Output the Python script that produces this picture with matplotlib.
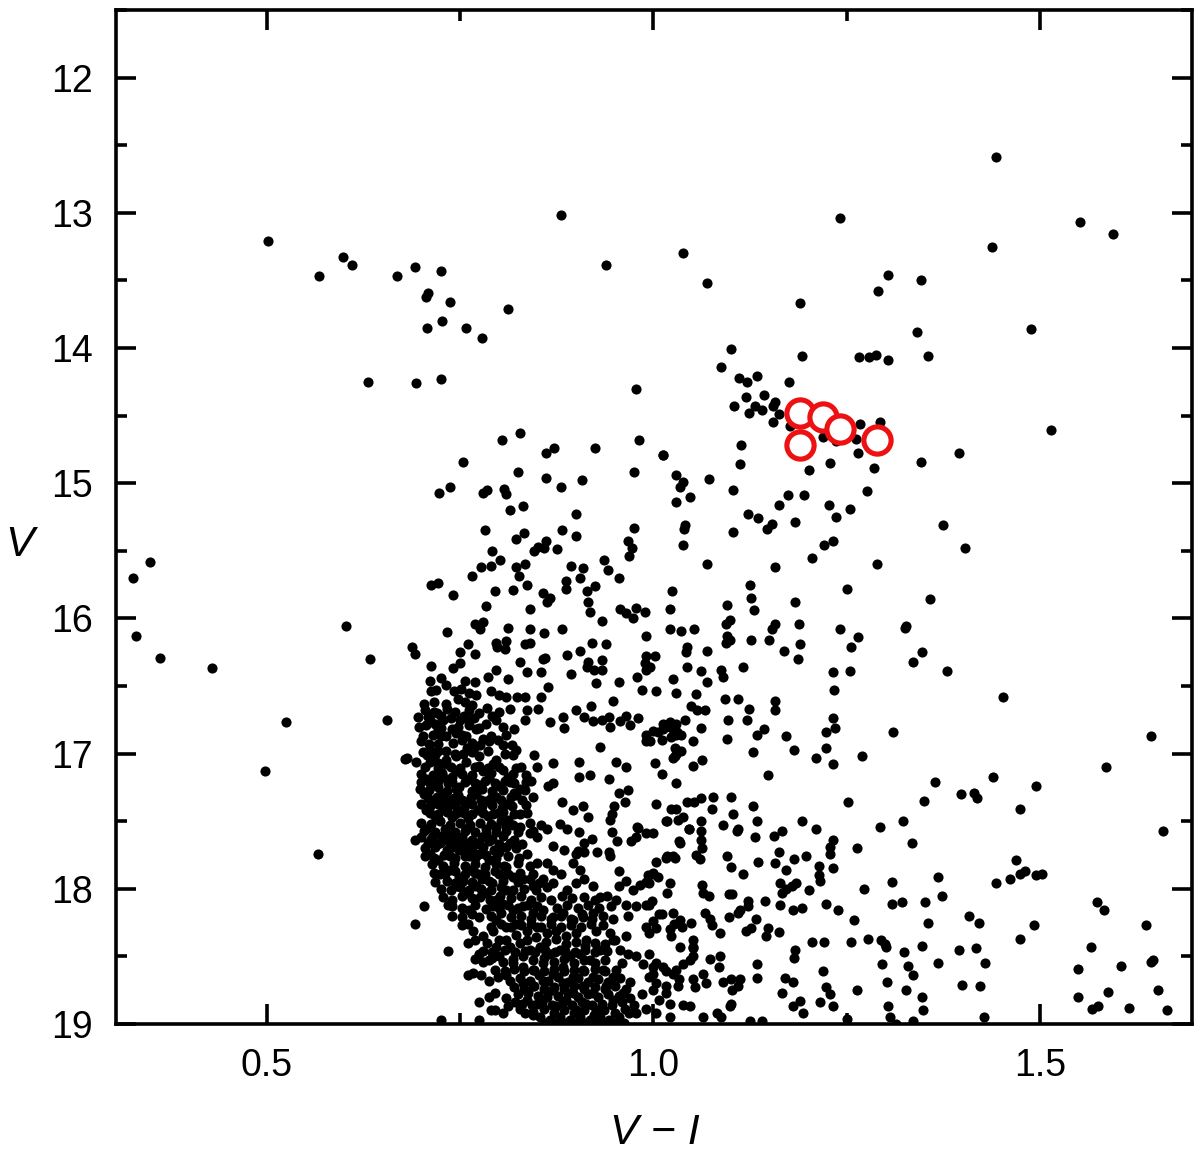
import numpy as np
import matplotlib
matplotlib.use('Agg')
import matplotlib.pyplot as plt
from matplotlib.ticker import MultipleLocator

plt.rcParams['font.family'] = ['Liberation Sans', 'DejaVu Sans']

# -------------------------
# Data: (V-I, V) pairs
# -------------------------
bright_stars = [
    (1.443, 12.59), (1.242, 13.04), (1.552, 13.07), (1.595, 13.16), (1.438, 13.25), (1.039, 13.30),
    (1.070, 13.52), (1.303, 13.46), (1.346, 13.50), (1.291, 13.58), (1.190, 13.67), (1.341, 13.88),
    (1.489, 13.86), (1.100, 14.01), (0.502, 13.21), (0.567, 13.47), (0.598, 13.33), (0.610, 13.39),
    (0.669, 13.47), (0.692, 13.40), (0.726, 13.43), (0.708, 13.59), (0.706, 13.62), (0.737, 13.66),
    (0.812, 13.71), (0.707, 13.85), (0.727, 13.80), (0.758, 13.85), (0.779, 13.93), (0.631, 14.25),
    (0.693, 14.26), (0.726, 14.23), (0.978, 14.30), (0.880, 13.02), (0.939, 13.39), (1.087, 14.14),
    (1.192, 14.06), (1.266, 14.07), (1.279, 14.07), (1.288, 14.05), (1.303, 14.09), (1.111, 14.22),
    (1.121, 14.25), (1.134, 14.21), (1.175, 14.25), (1.355, 14.06),
]

giant_stars = [
    (1.120, 14.36), (1.143, 14.35), (1.158, 14.40), (1.105, 14.43), (1.124, 14.48), (1.131, 14.43),
    (1.140, 14.46), (1.155, 14.43), (1.162, 14.49), (1.155, 14.55), (1.177, 14.58), (1.219, 14.66),
    (1.237, 14.69), (1.268, 14.56), (1.293, 14.55), (1.262, 14.67), (1.265, 14.78), (1.113, 14.72),
    (1.112, 14.86), (1.201, 14.90), (1.228, 14.85), (1.285, 14.89), (1.012, 14.79), (1.029, 14.94),
    (1.039, 14.99), (1.035, 15.03), (1.047, 15.10), (1.029, 15.14), (1.072, 14.97), (1.103, 15.05),
    (1.276, 15.06), (1.174, 15.09), (1.195, 15.09), (1.162, 15.16), (1.227, 15.16), (1.255, 15.19),
    (1.122, 15.23), (1.136, 15.26), (1.153, 15.30), (1.147, 15.34), (1.183, 15.29), (1.237, 15.25),
    (1.103, 15.36), (1.232, 15.43), (1.221, 15.46), (1.038, 15.46),
    (1.514, 14.61), (1.395, 14.78), (1.346, 14.84), (1.375, 15.31), (1.403, 15.48), (1.358, 15.86),
    (1.327, 16.06), (1.347, 16.25), (1.336, 16.32), (1.380, 16.39),
    (1.125, 15.75), (1.127, 15.85), (1.130, 15.94), (1.070, 15.60), (1.157, 15.62), (1.183, 15.88),
    (1.250, 15.78), (1.290, 15.60), (1.205, 15.55), (1.095, 15.90),
]

blue_stars = [
    (0.327, 15.70), (0.349, 15.58), (0.331, 16.13), (0.362, 16.29), (0.429, 16.37), (0.525, 16.77),
    (0.498, 17.13), (0.566, 17.74), (0.603, 16.06), (0.634, 16.30), (0.656, 16.75), (0.679, 17.04),
]

field_mid = [
    (0.827, 14.63), (0.804, 14.68), (0.872, 14.74), (0.861, 14.78), (0.924, 14.74), (0.982, 14.68),
    (1.013, 14.79), (0.754, 14.84), (0.825, 14.92), (0.861, 14.96), (0.975, 14.92), (0.908, 14.98),
    (0.880, 15.03), (0.737, 15.03), (0.723, 15.07), (0.780, 15.07), (0.785, 15.05), (0.807, 15.04),
    (0.810, 15.08), (0.831, 15.17), (0.814, 15.20), (0.900, 15.23), (0.782, 15.35), (0.882, 15.35),
    (0.900, 15.39), (0.833, 15.37), (0.822, 15.41), (0.861, 15.43), (0.851, 15.47), (0.859, 15.48),
    (0.846, 15.50), (0.875, 15.49), (0.792, 15.50), (0.802, 15.57), (0.777, 15.62), (0.790, 15.61),
    (0.823, 15.62), (0.834, 15.60), (0.826, 15.69), (0.766, 15.69), (0.712, 15.75), (0.721, 15.74),
    (0.741, 15.83), (0.795, 15.80), (0.818, 15.79), (0.836, 15.75), (0.857, 15.81), (0.866, 15.85),
    (0.863, 15.88), (0.887, 15.72), (0.887, 15.78), (0.893, 15.61), (0.909, 15.63), (0.905, 15.70),
    (0.914, 15.80), (0.924, 15.76), (0.916, 15.88), (0.918, 15.95), (0.936, 15.57), (0.942, 15.64),
    (0.955, 15.70), (0.967, 15.43), (0.973, 15.48), (0.968, 15.54), (0.975, 15.33), (0.783, 15.91),
    (0.841, 15.93), (0.957, 15.93), (0.965, 15.96), (0.974, 16.00), (0.977, 15.92), (0.989, 15.95),
    (0.934, 16.02), (1.024, 15.80), (1.021, 15.93), (1.041, 15.31), (1.040, 15.34), (0.733, 16.10),
    (0.769, 16.04), (0.780, 16.03), (0.776, 16.08), (0.812, 16.07), (0.841, 16.08), (0.859, 16.11),
    (0.882, 16.08), (0.990, 16.13), (1.021, 16.08), (1.036, 16.09), (1.053, 16.08),
]

field_red = [
    (1.452, 16.58), (1.644, 16.87), (1.364, 17.21), (1.350, 17.35), (1.398, 17.30), (1.415, 17.29),
    (1.419, 17.33), (1.439, 17.17), (1.474, 17.41), (1.495, 17.24), (1.585, 17.10), (1.659, 17.57),
    (1.368, 17.91), (1.351, 18.10), (1.373, 18.05), (1.356, 18.25), (1.347, 18.42), (1.368, 18.55),
    (1.443, 17.96), (1.461, 17.93), (1.469, 17.79), (1.474, 17.89), (1.481, 17.87), (1.495, 17.90),
    (1.503, 17.89), (1.409, 18.20), (1.421, 18.25), (1.475, 18.37), (1.492, 18.27), (1.395, 18.45),
    (1.418, 18.44), (1.429, 18.55), (1.400, 18.71), (1.422, 18.72), (1.347, 18.80), (1.349, 18.90),
    (1.428, 18.95), (1.574, 18.10), (1.583, 18.16), (1.638, 18.27), (1.566, 18.43), (1.549, 18.59),
    (1.605, 18.57), (1.644, 18.54), (1.646, 18.53), (1.549, 18.80), (1.588, 18.76), (1.567, 18.89),
    (1.575, 18.87), (1.616, 18.88), (1.653, 18.75), (1.664, 18.90),
]

field_lower = [
    (1.099, 16.01), (1.094, 16.04), (1.095, 16.13), (1.094, 16.18), (1.099, 16.16), (1.126, 16.16),
    (1.150, 16.16), (1.158, 16.04), (1.154, 16.08), (1.188, 16.04), (1.190, 16.19), (1.187, 16.30),
    (1.169, 16.24), (1.242, 16.08), (1.256, 16.21), (1.265, 16.14), (1.233, 16.40), (1.255, 16.39),
    (1.234, 16.53), (1.326, 16.07), (1.070, 16.24), (1.042, 16.25), (1.044, 16.21), (1.002, 16.28),
    (1.044, 16.36), (1.062, 16.39), (1.070, 16.47), (1.087, 16.38), (1.090, 16.43), (1.116, 16.36),
    (1.055, 16.56), (1.093, 16.60), (1.110, 16.60), (1.124, 16.67), (1.121, 16.75), (1.158, 16.61),
    (1.157, 16.68), (1.049, 16.65), (1.056, 16.68), (1.067, 16.68), (1.041, 16.75), (1.062, 16.81),
    (1.097, 16.75), (1.233, 16.74), (1.235, 16.81), (1.223, 16.84), (1.013, 16.78), (1.022, 16.77),
    (1.029, 16.78), (1.006, 16.84), (1.011, 16.90), (1.030, 16.86), (1.036, 16.86), (1.023, 16.88),
    (1.028, 16.96), (1.036, 16.98), (1.051, 16.91), (1.051, 17.09), (1.063, 17.05), (1.095, 16.89),
    (1.134, 16.86), (1.143, 16.82), (1.172, 16.87), (1.182, 16.97), (1.129, 16.99), (1.211, 17.03),
    (1.223, 16.96), (1.232, 17.08), (1.149, 17.16), (1.270, 17.02), (1.310, 16.84), (1.252, 17.36),
    (1.323, 17.50), (1.293, 17.54), (1.335, 17.66), (1.264, 17.70), (1.232, 17.64), (1.229, 17.69),
    (1.229, 17.74), (1.211, 17.56), (1.192, 17.50), (1.156, 17.61), (1.167, 17.57), (1.162, 17.73),
    (1.157, 17.81), (1.182, 17.78), (1.172, 17.86), (1.198, 17.76), (1.214, 17.83), (1.215, 17.90),
    (1.216, 17.94), (1.202, 18.01), (1.232, 17.85), (1.136, 17.80), (1.116, 17.89), (1.095, 17.76),
    (1.101, 17.84), (1.103, 17.45), (1.108, 17.57), (1.110, 17.56), (1.101, 17.32), (1.090, 17.53),
    (1.129, 17.39), (1.134, 17.50), (1.131, 17.62), (1.077, 17.32), (1.076, 17.41), (1.062, 17.33),
    (1.043, 17.36), (1.053, 17.36), (1.023, 17.41), (1.030, 17.41), (1.038, 17.47), (1.018, 17.50),
    (1.046, 17.56), (1.062, 17.50), (1.062, 17.57), (1.062, 17.64), (1.063, 17.70), (1.061, 17.78),
    (1.033, 17.65), (1.004, 17.80), (0.999, 17.88), (0.995, 17.96), (1.017, 17.77), (1.028, 17.77),
    (1.021, 17.96), (1.018, 18.03), (1.063, 17.97), (1.064, 18.03), (1.072, 18.05), (1.011, 18.19),
    (1.007, 18.19), (1.025, 18.18), (1.027, 18.26), (1.037, 18.28), (1.034, 18.23), (1.049, 18.25),
    (1.067, 18.18), (1.073, 18.22), (1.076, 18.27), (1.086, 18.33), (1.098, 18.04), (1.102, 18.04),
    (1.098, 18.21), (1.110, 18.18), (1.112, 18.16), (1.122, 18.09), (1.123, 18.13), (1.120, 18.31),
    (1.127, 18.29), (1.133, 18.22), (1.144, 18.09), (1.149, 18.29), (1.146, 18.35), (1.162, 18.32),
    (1.164, 17.96), (1.167, 18.03), (1.164, 18.12), (1.172, 18.00), (1.179, 17.98), (1.184, 17.96),
    (1.181, 18.16), (1.192, 18.14), (1.223, 18.11), (1.239, 18.16), (1.260, 18.23), (1.183, 18.45),
    (1.182, 18.51), (1.205, 18.39), (1.221, 18.39), (1.256, 18.39), (1.278, 18.37), (1.294, 18.38),
    (1.300, 18.41), (1.301, 18.43), (1.324, 18.47), (1.296, 18.56), (1.302, 18.69), (1.330, 18.57),
    (1.336, 18.64), (1.327, 18.75), (1.304, 18.87), (1.306, 18.95), (1.220, 18.61), (1.223, 18.73),
    (1.229, 18.78), (1.264, 18.75), (1.233, 18.87), (1.216, 18.84), (1.250, 18.96), (1.194, 18.92),
    (1.190, 18.83), (1.181, 18.87), (1.166, 18.77), (1.171, 18.66), (1.181, 18.69), (1.134, 18.56),
    (1.134, 18.66), (1.101, 18.67), (1.112, 18.67), (1.110, 18.72), (1.090, 18.69), (1.102, 18.75),
    (1.099, 18.87), (1.100, 18.85), (1.085, 18.58), (1.086, 18.50), (1.073, 18.52), (1.068, 18.70),
    (1.064, 18.63), (1.051, 18.50), (1.051, 18.38), (1.051, 18.44), (1.039, 18.56), (1.030, 18.60),
    (1.017, 18.61), (1.033, 18.67), (1.032, 18.72), (1.054, 18.73), (1.039, 18.86), (1.047, 18.87),
    (1.064, 18.95), (1.082, 18.92), (1.088, 18.95), (1.125, 18.98), (1.140, 18.98), (1.017, 18.77),
    (1.008, 18.82), (1.021, 18.85), (1.004, 18.92), (1.021, 18.95), (0.995, 18.48), (0.999, 18.58),
    (0.995, 18.65), (1.004, 18.70), (0.999, 18.75), (0.995, 18.33), (0.999, 18.24), (0.995, 18.12),
    (1.314, 19.00), (1.336, 18.98), (1.309, 17.95), (1.309, 18.11), (1.322, 18.10), (1.272, 18.00),
]

turnoff_upper = [
    (0.688, 16.21), (0.692, 16.26), (0.760, 16.19), (0.750, 16.25), (0.770, 16.26), (0.797, 16.18),
    (0.798, 16.21), (0.810, 16.17), (0.808, 16.23), (0.834, 16.19), (0.841, 16.18), (0.860, 16.29),
    (0.857, 16.30), (0.827, 16.32), (0.889, 16.27), (0.905, 16.24), (0.921, 16.18), (0.939, 16.19),
    (0.916, 16.32), (0.914, 16.36), (0.923, 16.38), (0.934, 16.31), (0.934, 16.38), (0.990, 16.28),
    (0.989, 16.33), (0.996, 16.36), (0.991, 16.38), (0.713, 16.35), (0.750, 16.33), (0.741, 16.37),
    (0.797, 16.38), (0.812, 16.45), (0.836, 16.40), (0.855, 16.40), (0.711, 16.46), (0.725, 16.44),
    (0.732, 16.49), (0.757, 16.46), (0.770, 16.47), (0.786, 16.43), (0.894, 16.41), (0.926, 16.48),
    (0.955, 16.47), (0.979, 16.43), (0.985, 16.53), (1.004, 16.54), (1.025, 16.45), (1.029, 16.55),
    (0.713, 16.54), (0.719, 16.53), (0.742, 16.54), (0.751, 16.52), (0.761, 16.55), (0.771, 16.57),
    (0.790, 16.54), (0.801, 16.57), (0.809, 16.58), (0.824, 16.58), (0.834, 16.58), (0.855, 16.58),
    (0.864, 16.51), (0.703, 16.63), (0.716, 16.62), (0.732, 16.63), (0.748, 16.60), (0.756, 16.62),
    (0.766, 16.64), (0.774, 16.70), (0.696, 16.73), (0.697, 16.80), (0.720, 16.70), (0.728, 16.75),
    (0.739, 16.82), (0.750, 16.75), (0.758, 16.74), (0.836, 16.68), (0.851, 16.67), (0.834, 16.75),
    (0.867, 16.77), (0.883, 16.73), (0.884, 16.81), (0.900, 16.68), (0.910, 16.73), (0.920, 16.65),
    (0.922, 16.76), (0.934, 16.75), (0.943, 16.73), (0.944, 16.80), (0.948, 16.61), (0.957, 16.76),
    (0.965, 16.72), (0.970, 16.79), (0.980, 16.74), (0.991, 16.86), (1.000, 16.83), (1.012, 16.82),
    (1.021, 16.80), (1.026, 16.86), (1.031, 16.84), (0.990, 16.91), (0.996, 16.91), (1.026, 17.03),
    (1.030, 17.00), (0.710, 16.93), (0.721, 16.93), (0.707, 17.01), (0.717, 17.01), (0.682, 17.03),
    (0.693, 17.06), (0.721, 17.07), (0.732, 17.05), (0.745, 17.02), (0.759, 16.96), (0.768, 16.96),
    (0.776, 16.94), (0.788, 16.91), (0.799, 16.90), (0.810, 16.86), (0.817, 16.94), (0.823, 16.97),
    (0.846, 17.01), (0.849, 17.10), (0.870, 17.07), (0.904, 17.06), (0.904, 17.17), (0.918, 17.16),
    (0.931, 16.95), (0.943, 17.19), (0.952, 17.06), (0.965, 17.10), (1.002, 17.07), (1.011, 17.15),
    (1.028, 17.02), (0.711, 16.75), (0.721, 16.82), (0.732, 16.87), (0.745, 16.85), (0.758, 16.87),
    (0.771, 16.82), (0.784, 16.78), (0.797, 16.75), (0.702, 16.87), (0.711, 16.97), (0.732, 16.98),
    (0.754, 17.00), (0.775, 17.02), (0.797, 17.05), (0.818, 17.01),
    (0.705, 16.68), (0.716, 16.69), (0.733, 16.67), (0.744, 16.69), (0.762, 16.68), (0.785, 16.66),
    (0.800, 16.69), (0.815, 16.67), (0.706, 16.79), (0.717, 16.78), (0.726, 16.81), (0.748, 16.80),
    (0.762, 16.79), (0.775, 16.81), (0.805, 16.80), (0.820, 16.82), (0.700, 16.91), (0.741, 16.92),
    (0.752, 16.90), (0.765, 16.92), (0.780, 16.89), (0.805, 16.94),
    (0.708, 16.73), (0.725, 16.72), (0.738, 16.74), (0.755, 16.72), (0.768, 16.74), (0.792, 16.72),
    (0.715, 16.86), (0.726, 16.87), (0.752, 16.86), (0.790, 16.87),
    (0.702, 16.99), (0.722, 16.98), (0.743, 17.00), (0.765, 16.99), (0.786, 16.98), (0.808, 17.00),
]

turnoff_core = [
    (0.711, 17.06), (0.721, 17.11), (0.732, 17.08), (0.745, 17.13), (0.758, 17.06), (0.769, 17.10),
    (0.780, 17.13), (0.793, 17.08), (0.806, 17.12), (0.818, 17.15), (0.829, 17.10),
    (0.706, 17.19), (0.717, 17.23), (0.728, 17.17), (0.739, 17.21), (0.749, 17.25), (0.762, 17.19),
    (0.775, 17.23), (0.788, 17.18), (0.801, 17.24), (0.814, 17.21), (0.827, 17.26), (0.842, 17.20),
    (0.704, 17.30), (0.715, 17.35), (0.726, 17.29), (0.737, 17.34), (0.747, 17.31), (0.758, 17.36),
    (0.771, 17.30), (0.784, 17.35), (0.797, 17.32), (0.810, 17.37), (0.823, 17.31),
    (0.706, 17.42), (0.717, 17.46), (0.728, 17.41), (0.739, 17.47), (0.749, 17.43), (0.760, 17.48),
    (0.773, 17.42), (0.786, 17.46), (0.799, 17.44), (0.812, 17.49), (0.827, 17.45),
    (0.844, 17.32), (0.864, 17.24), (0.870, 17.22), (0.882, 17.36), (0.896, 17.42), (0.909, 17.39),
    (0.916, 17.47), (0.944, 17.49), (0.946, 17.45), (0.949, 17.39), (0.956, 17.29), (0.964, 17.36),
    (0.967, 17.27), (0.980, 17.55), (1.004, 17.37), (1.032, 17.49), (1.030, 17.22),
    (0.692, 17.64), (0.706, 17.56), (0.715, 17.61), (0.724, 17.66), (0.732, 17.59), (0.745, 17.64),
    (0.758, 17.56), (0.771, 17.66), (0.784, 17.59), (0.797, 17.54), (0.711, 17.74), (0.721, 17.79),
    (0.737, 17.76), (0.749, 17.71), (0.762, 17.76), (0.775, 17.74), (0.788, 17.79), (0.801, 17.73),
    (0.724, 17.89), (0.737, 17.86), (0.749, 17.91), (0.762, 17.86), (0.775, 17.89), (0.788, 17.94),
    (0.801, 17.89), (0.810, 17.84), (0.745, 17.98), (0.758, 18.03), (0.771, 17.98), (0.784, 18.03),
    (0.797, 18.08), (0.810, 18.01), (0.762, 18.16), (0.775, 18.21), (0.784, 18.15), (0.767, 18.31),
    (0.780, 18.35), (0.793, 18.31), (0.775, 18.48), (0.788, 18.53), (0.801, 18.50), (0.797, 18.43),
    (0.704, 18.13), (0.734, 18.12), (0.692, 18.26), (0.734, 18.46), (0.760, 18.64), (0.767, 18.62),
    (0.777, 18.64), (0.788, 18.68), (0.799, 18.65), (0.810, 18.64), (0.775, 18.84), (0.788, 18.80),
    (0.795, 18.77), (0.810, 18.81), (0.821, 18.84), (0.795, 18.90), (0.812, 18.87), (0.726, 18.97),
    (0.775, 18.97), (0.834, 18.92), (0.844, 18.93),
    (0.700, 17.15), (0.715, 17.16), (0.727, 17.14), (0.740, 17.17), (0.752, 17.15), (0.765, 17.16),
    (0.790, 17.14), (0.812, 17.17), (0.835, 17.16),
    (0.698, 17.26), (0.710, 17.27), (0.722, 17.25), (0.733, 17.28), (0.745, 17.26), (0.765, 17.28),
    (0.779, 17.26), (0.792, 17.28), (0.806, 17.27), (0.820, 17.29), (0.834, 17.27),
    (0.700, 17.37), (0.711, 17.39), (0.722, 17.37), (0.733, 17.40), (0.744, 17.38), (0.755, 17.40),
    (0.766, 17.37), (0.779, 17.39), (0.791, 17.38), (0.804, 17.40), (0.817, 17.39), (0.835, 17.38),
    (0.700, 17.51), (0.712, 17.52), (0.724, 17.50), (0.737, 17.53), (0.750, 17.51), (0.763, 17.53),
    (0.776, 17.51), (0.790, 17.52), (0.803, 17.50), (0.818, 17.53), (0.840, 17.51), (0.855, 17.53),
    (0.700, 17.62), (0.713, 17.63), (0.727, 17.61), (0.738, 17.63), (0.752, 17.62), (0.765, 17.64),
    (0.778, 17.62), (0.791, 17.63), (0.806, 17.61), (0.820, 17.64), (0.850, 17.62),
    (0.705, 17.70), (0.718, 17.69), (0.733, 17.71), (0.741, 17.69), (0.755, 17.70), (0.766, 17.71),
    (0.780, 17.69), (0.794, 17.71), (0.809, 17.69), (0.822, 17.70),
    (0.714, 17.82), (0.728, 17.83), (0.742, 17.81), (0.756, 17.83), (0.769, 17.82), (0.782, 17.84),
    (0.796, 17.82), (0.807, 17.83), (0.825, 17.81), (0.840, 17.83),
    (0.718, 17.95), (0.733, 17.94), (0.744, 17.96), (0.754, 17.94), (0.766, 17.95), (0.779, 17.93),
    (0.792, 17.96), (0.806, 17.94), (0.825, 17.95), (0.840, 17.93), (0.852, 17.96),
    (0.705, 17.10), (0.738, 17.10), (0.750, 17.11), (0.775, 17.09), (0.786, 17.11), (0.800, 17.10),
    (0.823, 17.11),
    (0.700, 17.21), (0.711, 17.22), (0.722, 17.20), (0.734, 17.22), (0.756, 17.21), (0.769, 17.22),
    (0.782, 17.20), (0.795, 17.22), (0.808, 17.20), (0.820, 17.22), (0.835, 17.21),
    (0.709, 17.33), (0.720, 17.32), (0.731, 17.34), (0.742, 17.33), (0.753, 17.34), (0.764, 17.32),
    (0.777, 17.34), (0.790, 17.33), (0.803, 17.34), (0.816, 17.32), (0.830, 17.34),
    (0.711, 17.44), (0.722, 17.45), (0.733, 17.43), (0.744, 17.45), (0.755, 17.44), (0.766, 17.45),
    (0.780, 17.44), (0.793, 17.45), (0.806, 17.43), (0.820, 17.45), (0.836, 17.44),
    (0.703, 17.57), (0.718, 17.58), (0.731, 17.56), (0.744, 17.58), (0.757, 17.57), (0.770, 17.58),
    (0.783, 17.56), (0.796, 17.58), (0.810, 17.57), (0.825, 17.58), (0.845, 17.57),
    (0.709, 17.66), (0.720, 17.67), (0.735, 17.65), (0.750, 17.67), (0.760, 17.66), (0.775, 17.67),
    (0.788, 17.65), (0.800, 17.67), (0.815, 17.66), (0.830, 17.67),
    (0.705, 17.76), (0.716, 17.77), (0.729, 17.75), (0.743, 17.77), (0.756, 17.76), (0.769, 17.77),
    (0.783, 17.75), (0.796, 17.77), (0.812, 17.76), (0.826, 17.77),
    (0.716, 17.88), (0.730, 17.89), (0.743, 17.87), (0.756, 17.89), (0.769, 17.88), (0.782, 17.89),
    (0.795, 17.87), (0.812, 17.89), (0.828, 17.88), (0.845, 17.89),
    (0.726, 18.00), (0.738, 18.01), (0.750, 17.99), (0.762, 18.01), (0.777, 18.00), (0.790, 18.01),
    (0.803, 17.99), (0.818, 18.01), (0.833, 18.00), (0.848, 18.01), (0.862, 17.99),
]

lower_ms = [
    (0.810, 17.54), (0.827, 17.54), (0.840, 17.59), (0.862, 17.56), (0.879, 17.52), (0.888, 17.56),
    (0.870, 17.68), (0.885, 17.71), (0.900, 17.74), (0.836, 17.74), (0.849, 17.81), (0.862, 17.81),
    (0.870, 17.86), (0.881, 17.89), (0.896, 17.81), (0.905, 17.86), (0.911, 17.93), (0.922, 17.98),
    (0.931, 18.06), (0.900, 17.96), (0.888, 18.01), (0.870, 17.96), (0.857, 17.93), (0.844, 17.98),
    (0.831, 17.93), (0.818, 17.91),
    (0.904, 17.58), (0.910, 17.66), (0.921, 17.63), (0.903, 17.72), (0.911, 17.73), (0.927, 17.73),
    (0.943, 17.73), (0.944, 17.76), (0.947, 17.58), (0.953, 17.65), (0.971, 17.65), (0.978, 17.62),
    (0.979, 17.54), (0.991, 17.59), (0.999, 17.59), (1.017, 17.50), (1.034, 17.66), (1.046, 17.56),
    (1.055, 17.75), (0.956, 17.87), (0.965, 17.94), (0.955, 17.98), (0.974, 18.01), (0.983, 17.97),
    (0.991, 17.95), (0.993, 17.90), (1.000, 17.89), (1.006, 17.91), (1.018, 17.76), (1.026, 17.76),
    (0.965, 18.12), (0.967, 18.20), (0.978, 18.13), (0.991, 18.12), (0.998, 18.09), (1.021, 18.30),
    (1.023, 18.35), (0.991, 18.28), (1.004, 18.29), (0.944, 18.33), (0.948, 18.38), (0.965, 18.35),
    (0.957, 18.45), (0.967, 18.48), (0.978, 18.50), (0.987, 18.56), (1.004, 18.55), (1.013, 18.58),
    (1.034, 18.43), (1.051, 18.43), (1.047, 18.53), (1.025, 18.63), (1.051, 18.67), (1.017, 18.72),
    (1.000, 18.63),
    (0.793, 18.13), (0.806, 18.11), (0.818, 18.16), (0.831, 18.13), (0.844, 18.18), (0.857, 18.16),
    (0.870, 18.21), (0.883, 18.18), (0.896, 18.23), (0.909, 18.21), (0.922, 18.18),
    (0.797, 18.23), (0.810, 18.28), (0.823, 18.26), (0.836, 18.31), (0.849, 18.28), (0.862, 18.33),
    (0.874, 18.31), (0.887, 18.35), (0.900, 18.33), (0.913, 18.38), (0.926, 18.31),
    (0.801, 18.38), (0.814, 18.43), (0.827, 18.40), (0.840, 18.45), (0.853, 18.43), (0.866, 18.48),
    (0.879, 18.45), (0.892, 18.50), (0.905, 18.48), (0.918, 18.53), (0.931, 18.45),
    (0.818, 18.55), (0.831, 18.58), (0.844, 18.60), (0.857, 18.55), (0.870, 18.63), (0.883, 18.58),
    (0.896, 18.65), (0.909, 18.60), (0.922, 18.65), (0.935, 18.60),
    (0.831, 18.70), (0.844, 18.72), (0.857, 18.68), (0.870, 18.75), (0.883, 18.70), (0.896, 18.77),
    (0.909, 18.72), (0.922, 18.77), (0.939, 18.72), (0.948, 18.65),
    (0.836, 18.82), (0.849, 18.85), (0.862, 18.80), (0.874, 18.87), (0.887, 18.82), (0.900, 18.90),
    (0.913, 18.85), (0.926, 18.90), (0.948, 18.82), (0.961, 18.77),
    (0.853, 18.95), (0.866, 18.97), (0.879, 18.95), (0.892, 18.97), (0.905, 18.95), (0.918, 18.97),
    (0.931, 18.95), (0.943, 18.97), (0.956, 18.95), (0.969, 18.92),
    (0.728, 18.06), (0.740, 18.08), (0.752, 18.05), (0.765, 18.07), (0.776, 18.06), (0.789, 18.08),
    (0.802, 18.05), (0.816, 18.07), (0.829, 18.05), (0.842, 18.08), (0.855, 18.06), (0.868, 18.08),
    (0.882, 18.05), (0.895, 18.07), (0.910, 18.06), (0.925, 18.08), (0.940, 18.05), (0.952, 18.08),
    (0.740, 18.20), (0.752, 18.21), (0.765, 18.19), (0.790, 18.20), (0.803, 18.18), (0.816, 18.21),
    (0.829, 18.20), (0.842, 18.22), (0.855, 18.20), (0.868, 18.22), (0.881, 18.20), (0.894, 18.22),
    (0.908, 18.19), (0.921, 18.22), (0.935, 18.20), (0.948, 18.22),
    (0.760, 18.40), (0.770, 18.38), (0.785, 18.40), (0.810, 18.38), (0.823, 18.34), (0.836, 18.38),
    (0.848, 18.36), (0.861, 18.39), (0.874, 18.37), (0.887, 18.41), (0.900, 18.39), (0.912, 18.42),
    (0.925, 18.40), (0.938, 18.41), (0.950, 18.38),
    (0.770, 18.52), (0.780, 18.54), (0.792, 18.51), (0.806, 18.54), (0.819, 18.52), (0.832, 18.50),
    (0.845, 18.53), (0.858, 18.51), (0.872, 18.54), (0.885, 18.52), (0.898, 18.55), (0.911, 18.53),
    (0.924, 18.55), (0.938, 18.53), (0.960, 18.55),
    (0.815, 18.68), (0.827, 18.66), (0.840, 18.68), (0.852, 18.64), (0.864, 18.68), (0.877, 18.65),
    (0.890, 18.69), (0.903, 18.66), (0.916, 18.69), (0.929, 18.67), (0.942, 18.69), (0.957, 18.66),
    (0.970, 18.69),
    (0.825, 18.78), (0.838, 18.77), (0.851, 18.79), (0.864, 18.76), (0.877, 18.79), (0.890, 18.77),
    (0.903, 18.80), (0.916, 18.78), (0.929, 18.80), (0.942, 18.78), (0.955, 18.79), (0.970, 18.81),
    (0.985, 18.78),
    (0.790, 18.90), (0.805, 18.92), (0.828, 18.89), (0.845, 18.91), (0.858, 18.89), (0.871, 18.92),
    (0.884, 18.90), (0.897, 18.92), (0.910, 18.90), (0.923, 18.93), (0.936, 18.90), (0.950, 18.92),
    (0.963, 18.89), (0.978, 18.92), (0.990, 18.89),
    (0.740, 18.13), (0.753, 18.14), (0.770, 18.12), (0.800, 18.14), (0.812, 18.12), (0.825, 18.14),
    (0.838, 18.12), (0.850, 18.13), (0.876, 18.14), (0.889, 18.12), (0.903, 18.14), (0.916, 18.12),
    (0.930, 18.14), (0.945, 18.13),
    (0.752, 18.27), (0.760, 18.26), (0.790, 18.28), (0.803, 18.26), (0.816, 18.28), (0.829, 18.27),
    (0.842, 18.26), (0.855, 18.28), (0.868, 18.26), (0.881, 18.28), (0.894, 18.27), (0.907, 18.28),
    (0.920, 18.26), (0.935, 18.27),
    (0.780, 18.46), (0.792, 18.47), (0.808, 18.45), (0.821, 18.47), (0.834, 18.46), (0.847, 18.47),
    (0.860, 18.45), (0.873, 18.47), (0.886, 18.46), (0.899, 18.47), (0.912, 18.45), (0.925, 18.47),
    (0.940, 18.46),
    (0.795, 18.60), (0.808, 18.61), (0.820, 18.59), (0.833, 18.61), (0.846, 18.60), (0.859, 18.61),
    (0.872, 18.59), (0.885, 18.61), (0.898, 18.60), (0.911, 18.61), (0.924, 18.59), (0.937, 18.61),
    (0.952, 18.60),
    (0.820, 18.73), (0.833, 18.74), (0.846, 18.72), (0.859, 18.74), (0.872, 18.73), (0.885, 18.74),
    (0.898, 18.72), (0.911, 18.74), (0.924, 18.73), (0.937, 18.74), (0.950, 18.72), (0.965, 18.74),
    (0.830, 18.85), (0.843, 18.86), (0.856, 18.84), (0.869, 18.86), (0.882, 18.85), (0.895, 18.86),
    (0.908, 18.84), (0.921, 18.86), (0.934, 18.85), (0.947, 18.86), (0.960, 18.84), (0.975, 18.86),
    (0.860, 18.99), (0.873, 18.99), (0.886, 18.99), (0.899, 18.99), (0.912, 18.99), (0.925, 18.99),
    (0.938, 18.99), (0.950, 18.99), (0.962, 18.99),
]

# marked stars (red open circles)
marked_vi = [1.190, 1.219, 1.241, 1.190, 1.290]
marked_v = [14.48, 14.51, 14.60, 14.72, 14.68]

# -------------------------
# Plot
# -------------------------
stars = np.array(bright_stars + giant_stars + blue_stars + field_mid + field_red
                 + field_lower + turnoff_upper + turnoff_core + lower_ms)

fig = plt.figure(figsize=(12, 11.56), dpi=100)
ax = fig.add_axes([0.0967, 0.1142, 0.8967, 0.8772])

ax.plot(stars[:, 0], stars[:, 1], 'o', color='black', ms=7.3, mew=0, ls='none', zorder=2)
ax.plot(marked_vi, marked_v, 'o', ms=19.6, mfc='white', mec='#ee1111', mew=3.7, ls='none', zorder=3)

ax.set_xlim(0.305, 1.697)
ax.set_ylim(19, 11.5)
ax.xaxis.set_major_locator(MultipleLocator(0.5))
ax.xaxis.set_minor_locator(MultipleLocator(0.25))
ax.yaxis.set_major_locator(MultipleLocator(1))
ax.yaxis.set_minor_locator(MultipleLocator(0.5))

ax.tick_params(which='both', direction='in', top=True, right=True, width=2.6,
               labelsize=27, pad=17)
ax.tick_params(which='major', length=14.5)
ax.tick_params(which='minor', length=7.7)
for s in ax.spines.values():
    s.set_linewidth(2.6)

fig.text(20 / 1200, 1 - 545 / 1156, 'V', style='italic', fontsize=31, ha='center', va='center')
fig.text(655 / 1200, 1 - 1133 / 1156, 'V − I', style='italic', fontsize=31, ha='center', va='center')

fig.savefig('out.png', dpi=100)
